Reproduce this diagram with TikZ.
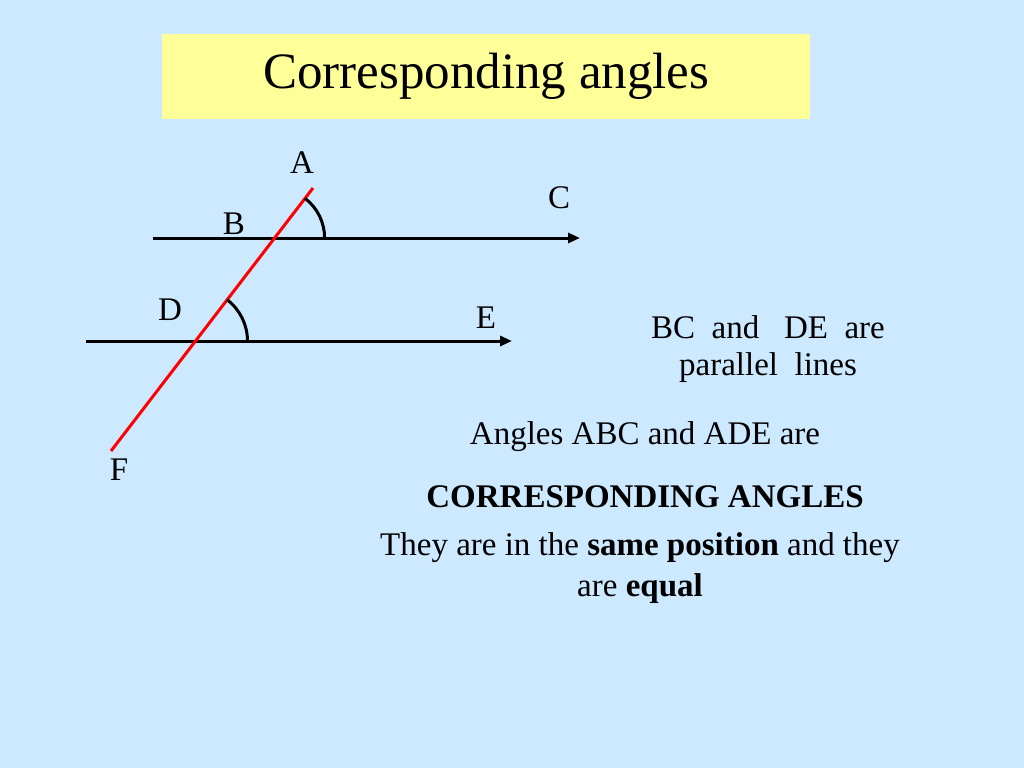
\documentclass[tikz,border=0pt]{standalone}
\usepackage{fontspec}
\setmainfont{Liberation Serif}
\usetikzlibrary{arrows.meta}
\definecolor{bg}{HTML}{CCE9FF}
\definecolor{ttl}{HTML}{FFFF99}
\begin{document}
\begin{tikzpicture}[x=1pt,y=-1pt,
  lbl/.style={font=\fontsize{33}{36}\selectfont, inner sep=0pt},
  par/.style={line width=3pt,-{Triangle[length=12pt,width=10pt]}},
  ang/.style={line width=3pt}]
\fill[bg] (0,0) rectangle (1024,768);
\useasboundingbox (0,0) rectangle (1024,768);
\node[fill=ttl, minimum width=648pt, minimum height=85pt, anchor=north west, inner sep=0pt] (title) at (162,34) {};
\node[font=\fontsize{51}{55}\selectfont] at (title.center) {Corresponding angles};
\coordinate (b1) at (153,238); \coordinate (b2) at (580,238);
\coordinate (d1) at (86,341); \coordinate (d2) at (512,341);
\coordinate (A) at (313,188); \coordinate (F) at (111,451);
\draw[par] (b1) -- (b2);
\draw[par] (d1) -- (d2);
\draw[red, line width=3pt] (A) -- (F);
\draw[ang] (324.6,238) arc[start angle=0, end angle=-52.5, radius=50];
\draw[ang] (247.5,341) arc[start angle=0, end angle=-52.5, radius=52];
\node[lbl] (lA) at (302,163) {A};
\node[lbl] (lC) at (559,198) {C};
\node[lbl] (lB) at (234,224) {B};
\node[lbl] (lD) at (170,310) {D};
\node[lbl] (lE) at (486,318) {E};
\node[lbl] (lF) at (119,470) {F};
\node[lbl] (t1) at (768,327) {BC\ \ and \ \ DE\ \ are};
\node[lbl] (t2) at (768,368) {parallel\ \ lines};
\node[lbl] (t3) at (645,437) {Angles ABC and ADE are};
\node[lbl] (t4) at (645,497) {\textbf{CORRESPONDING ANGLES}};
\node[lbl] (t5) at (640,548) {They are in the \textbf{same position} and they};
\node[lbl] (t6) at (640,589) {are \textbf{equal}};
\end{tikzpicture}
\end{document}
